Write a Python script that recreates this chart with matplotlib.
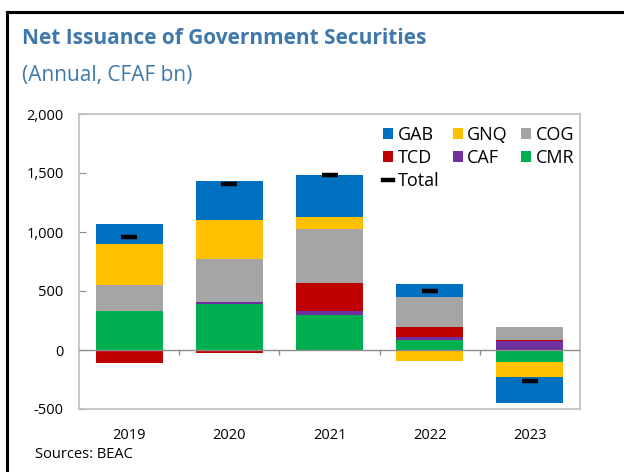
import matplotlib
matplotlib.use("Agg")
import matplotlib.pyplot as plt
from matplotlib.lines import Line2D
import numpy as np

plt.rcParams['font.family'] = ['Open Sans', 'DejaVu Sans']

years = ["2019", "2020", "2021", "2022", "2023"]
# stacking order from zero outward
series_names = ["CMR", "CAF", "TCD", "COG", "GNQ", "GAB"]
CMR = [330, 394, 293, 87, -104]
CAF = [0, 14, 39, 23, 80]
TCD = [-107, -28, 234, 87, 8]
COG = [219, 361, 462, 248, 104]
GNQ = [350, 330, 96, -96, -121]
GAB = [166, 335, 361, 113, -225]
TOTAL = [955, 1408, 1487, 499, -265]

colors = {"GAB": "#0070C0", "GNQ": "#FFC000", "COG": "#A5A5A5",
          "TCD": "#C00000", "CAF": "#7030A0", "CMR": "#00B050"}
data = {"CMR": CMR, "CAF": CAF, "TCD": TCD, "COG": COG, "GNQ": GNQ, "GAB": GAB}

fig = plt.figure(figsize=(6.24, 4.72), dpi=100)
ax = fig.add_axes([79/624, 1-409/472, (580-79)/624, (409-114)/472])

x = np.arange(len(years))
pos_base = np.zeros(len(years))
neg_base = np.zeros(len(years))
handles = {}
for name in series_names:
    vals = np.array(data[name], dtype=float)
    base = np.where(vals >= 0, pos_base, neg_base)
    b = ax.bar(x, vals, bottom=base, width=0.67, color=colors[name], linewidth=0, zorder=2)
    handles[name] = b
    pos_base = pos_base + np.where(vals >= 0, vals, 0)
    neg_base = neg_base + np.where(vals < 0, vals, 0)

tot, = ax.plot(x, TOTAL, linestyle='none', marker='_', markersize=12, markeredgewidth=3.2,
               color='black', zorder=4)

ax.axhline(0, color='#8c8c8c', linewidth=1.0, zorder=3)
ax.vlines(x[:-1] + 0.5, -45, 0, color='#8c8c8c', linewidth=1.0, zorder=3)

ax.set_xlim(-0.5, len(years) - 0.5)
ax.set_ylim(-500, 2000)
ax.set_yticks([-500, 0, 500, 1000, 1500, 2000])
ax.set_yticklabels(["-500", "0", "500", "1,000", "1,500", "2,000"])
ax.set_xticks(x)
ax.set_xticklabels(years)
ax.tick_params(axis='y', direction='in', length=5, color='#8c8c8c', pad=11, labelsize=10.5)
ax.tick_params(axis='x', length=0, pad=14, labelsize=10.5)
for s in ax.spines.values():
    s.set_color('#bfbfbf')
    s.set_linewidth(1.2)

order = ["GAB", "TCD", None, "GNQ", "CAF", "COG", "CMR"]
leg_h, leg_l = [], []
for n in order:
    if n is None:
        leg_h.append(Line2D([], [], color='black', linewidth=3.2))
        leg_l.append("Total")
    else:
        leg_h.append(handles[n]); leg_l.append(n)
ax.legend(leg_h, leg_l, ncol=3, loc='upper right', bbox_to_anchor=(1.012, 1.0),
          frameon=False, fontsize=13, handlelength=0.55, handleheight=0.55,
          handletextpad=0.25, columnspacing=0.75, labelspacing=0.28, borderaxespad=0.25)

fig.text(22/624, 1-38/472, "Net Issuance of Government Securities", color='#3F78AA',
         fontsize=15, fontweight='bold', va='center', ha='left')
fig.text(22/624, 1-76/472, "(Annual, CFAF bn)", color='#3F78AA',
         fontsize=15, va='center', ha='left')
fig.text(35/624, 1-455/472, "Sources: BEAC", color='black', fontsize=10.5, va='center', ha='left')

fig.add_artist(Line2D([7/624, 1], [1-12/472, 1-12/472], color='black', linewidth=2.2,
                      transform=fig.transFigure))
fig.add_artist(Line2D([7/624, 7/624], [0, 1-12/472], color='black', linewidth=2.2,
                      transform=fig.transFigure))

fig.savefig("out.png", dpi=100)
